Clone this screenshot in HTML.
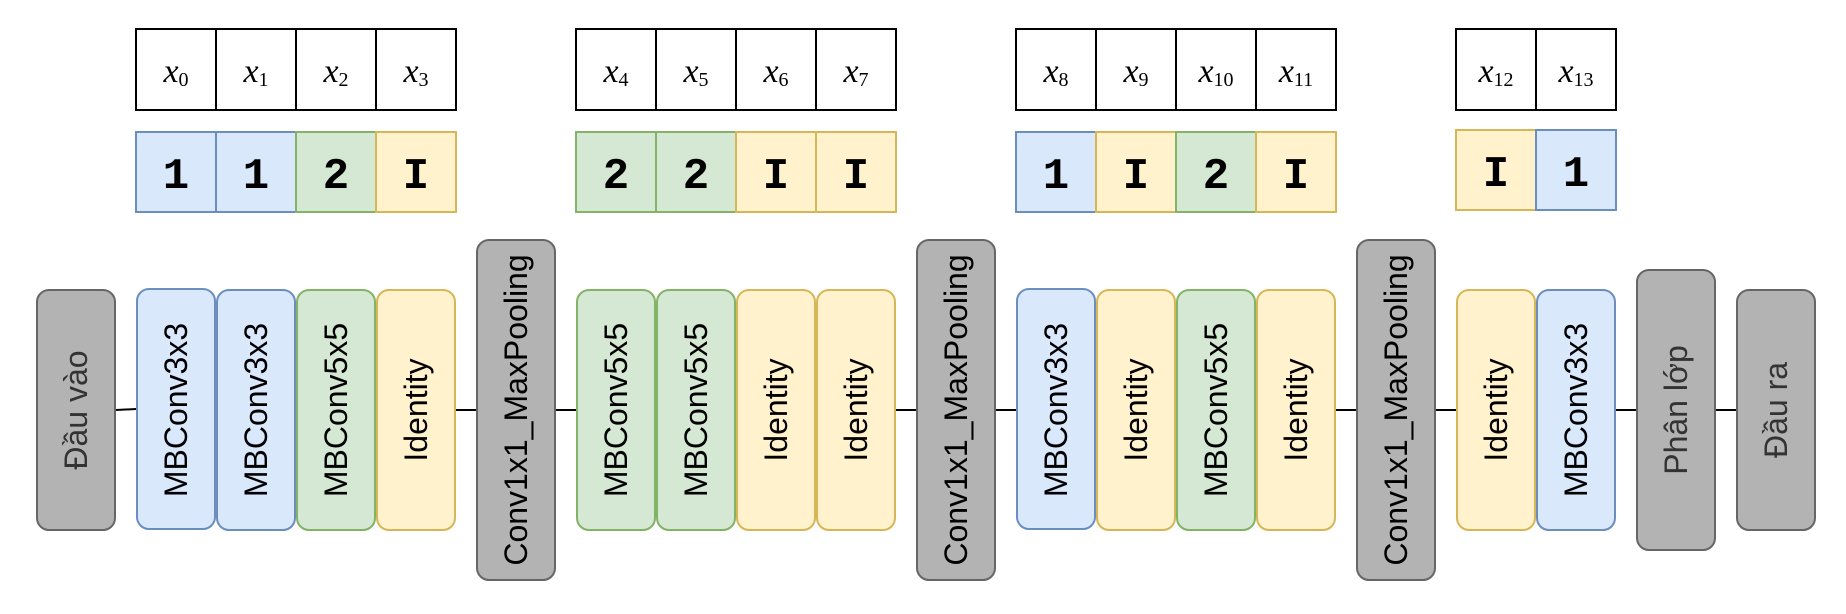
<!DOCTYPE html>
<html><head><meta charset="utf-8"><style>
html,body{margin:0;padding:0;background:#fff;}
svg{display:block;}
.v{font-family:"Liberation Sans",sans-serif;font-size:32px;}
.m{font-family:"Liberation Serif",serif;font-style:italic;font-size:34px;}
.s{font-family:"Liberation Serif",serif;font-size:20px;font-style:normal;}
.c{font-family:"Liberation Mono",monospace;font-weight:bold;font-size:44px;}
</style></head><body>
<svg width="1846" height="614" viewBox="0 0 1846 614" xmlns="http://www.w3.org/2000/svg">
<g stroke="#000" stroke-width="2">
<line x1="116" y1="410" x2="136" y2="409"/>
<line x1="456" y1="410" x2="476" y2="410"/>
<line x1="556" y1="410" x2="576" y2="410"/>
<line x1="896" y1="410" x2="916" y2="410"/>
<line x1="996" y1="410" x2="1016" y2="410"/>
<line x1="1336" y1="410" x2="1356" y2="410"/>
<line x1="1436" y1="410" x2="1456" y2="410"/>
<line x1="1616" y1="410" x2="1636" y2="410"/>
<line x1="1716" y1="410" x2="1736" y2="410"/>
</g>
<g id="blocks"></g>
<g id="top"></g>
</svg>
<script>
const NS='http://www.w3.org/2000/svg';
const C={b:['#dae8fc','#6c8ebf'],g:['#d5e8d4','#82b366'],y:['#fff2cc','#d6b656'],k:['#b3b3b3','#666666']};
const blocks=[
[36,290,80,240,'k','Đầu vào','#333'],
[136,289,80,240,'b','MBConv3x3','#000'],[216,290,80,240,'b','MBConv3x3','#000'],[296,290,80,240,'g','MBConv5x5','#000'],[376,290,80,240,'y','Identity','#000'],
[476,240,80,340,'k','Conv1x1_MaxPooling','#000'],
[576,290,80,240,'g','MBConv5x5','#000'],[656,290,80,240,'g','MBConv5x5','#000'],[736,290,80,240,'y','Identity','#000'],[816,290,80,240,'y','Identity','#000'],
[916,240,80,340,'k','Conv1x1_MaxPooling','#000'],
[1016,289,80,240,'b','MBConv3x3','#000'],[1096,290,80,240,'y','Identity','#000'],[1176,290,80,240,'g','MBConv5x5','#000'],[1256,290,80,240,'y','Identity','#000'],
[1356,240,80,340,'k','Conv1x1_MaxPooling','#000'],
[1456,290,80,240,'y','Identity','#000'],[1536,290,80,240,'b','MBConv3x3','#000'],
[1636,270,80,280,'k','Phân lớp','#333'],
[1736,290,80,240,'k','Đầu ra','#333']];
const bg=document.getElementById('blocks');
blocks.forEach(b=>{
 const g=document.createElementNS(NS,'g');
 
 
 const r=document.createElementNS(NS,'rect');
 r.setAttribute('x',b[0]+1);r.setAttribute('y',b[1]);r.setAttribute('width',b[2]-2);r.setAttribute('height',b[3]);
 r.setAttribute('rx',12);r.setAttribute('fill',C[b[4]][0]);r.setAttribute('stroke',C[b[4]][1]);r.setAttribute('stroke-width',2);
 g.appendChild(r);
 const t=document.createElementNS(NS,'text');
 const cx=b[0]+b[2]/2, cy=410;
 t.setAttribute('class','v');t.setAttribute('fill',b[6]);
 t.setAttribute('text-anchor','middle');t.setAttribute('dominant-baseline','central');
 t.setAttribute('transform','translate('+cx+','+cy+') rotate(-90)');
 t.textContent=b[5];
 g.appendChild(t);
 bg.appendChild(g);
});
const groups=[[136,[0,1,2,3],['b','b','g','y'],['1','1','2','I'],132],[576,[4,5,6,7],['g','g','y','y'],['2','2','I','I'],132],[1016,[8,9,10,11],['b','y','g','y'],['1','I','2','I'],132],[1456,[12,13],['y','b'],['I','1'],130]];
const tg=document.getElementById('top');
groups.forEach(gr=>{
 gr[1].forEach((n,i)=>{
  const x=gr[0]+i*80;
  const g=document.createElementNS(NS,'g');
  
  
  const r=document.createElementNS(NS,'rect');
  r.setAttribute('x',x);r.setAttribute('y',29);r.setAttribute('width',80);r.setAttribute('height',81);
  r.setAttribute('fill','#fff');r.setAttribute('stroke','#000');r.setAttribute('stroke-width',2);
  g.appendChild(r);
  const t=document.createElementNS(NS,'text');
  t.setAttribute('x',x+40);t.setAttribute('y',82);t.setAttribute('text-anchor','middle');t.setAttribute('class','m');
  t.appendChild(document.createTextNode('x'));
  const s=document.createElementNS(NS,'tspan');s.setAttribute('class','s');s.setAttribute('dy','4');s.textContent=String(n);
  t.appendChild(s);g.appendChild(t);
  const r2=document.createElementNS(NS,'rect');
  const c=C[gr[2][i]];
  r2.setAttribute('x',x);r2.setAttribute('y',gr[4]);r2.setAttribute('width',80);r2.setAttribute('height',80);
  r2.setAttribute('fill',c[0]);r2.setAttribute('stroke',c[1]);r2.setAttribute('stroke-width',2);
  g.appendChild(r2);
  const t2=document.createElementNS(NS,'text');
  t2.setAttribute('x',x+40);t2.setAttribute('y',gr[4]+56);t2.setAttribute('text-anchor','middle');t2.setAttribute('class','c');
  t2.textContent=gr[3][i];
  g.appendChild(t2);
  tg.appendChild(g);
 });
});
</script>
</body></html>
